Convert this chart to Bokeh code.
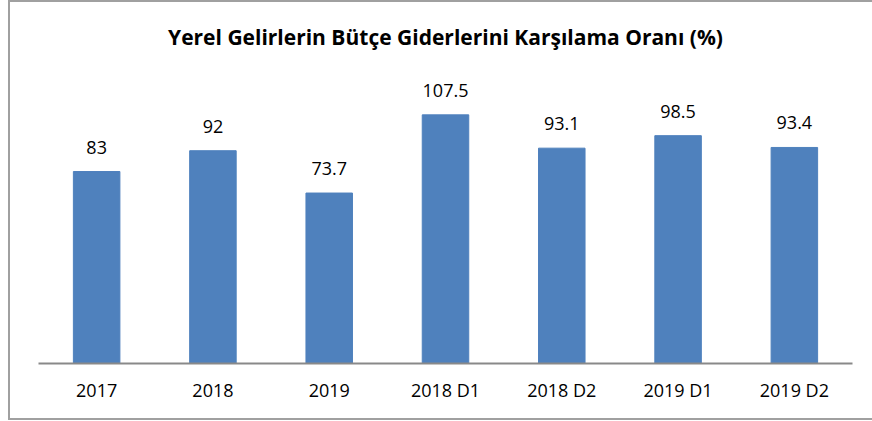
from bokeh.plotting import figure
from bokeh.models import ColumnDataSource, LabelSet, Range1d, FactorRange
from bokeh.core.properties import value
from bokeh.embed import file_html
from bokeh.resources import INLINE

categories = ["2017", "2018", "2019", "2018 D1", "2018 D2", "2019 D1", "2019 D2"]
values = [83, 92, 73.7, 107.5, 93.1, 98.5, 93.4]
value_labels = ["83", "92", "73.7", "107.5", "93.1", "98.5", "93.4"]

src = ColumnDataSource(dict(cat=categories, val=values, lab=value_labels))

W, H = 862, 416
p = figure(
    x_range=FactorRange(*categories, range_padding=0.0),
    y_range=Range1d(0, 131),
    width=W, height=H,
    output_backend="svg", toolbar_location=None,
    title="Yerel Gelirlerin Bütçe Giderlerini Karşılama Oranı (%)",
)
p.x_range.factor_padding = 0.0
p.margin = (2, 0, 2, 10)
p.min_border_left = 28
p.min_border_right = 20
p.min_border_bottom = 55
p.min_border_top = 58

p.title.text_font = "Open Sans"
p.title.text_font_size = "21px"
p.title.text_font_style = "bold"
p.title.text_color = "#000000"
p.title.align = "center"
p.title.standoff = 20

p.vbar(x="cat", top="val", width=0.4, source=src, fill_color="#4F81BD", line_color="#4F81BD")

labels = LabelSet(x="cat", y="val", text="lab", source=src, text_align="center",
                  text_baseline="alphabetic", y_offset=18,
                  text_font=value("Open Sans"), text_font_size=value("18px"), text_color="#000000")
p.add_layout(labels)

p.yaxis.visible = False
p.grid.visible = False
p.outline_line_color = None
p.xaxis.axis_line_color = "#898989"
p.xaxis.axis_line_width = 2
p.xaxis.major_tick_line_color = None
p.xaxis.minor_tick_line_color = None
p.xaxis.major_label_standoff = 8
p.xaxis.major_label_text_font = "Open Sans"
p.xaxis.major_label_text_font_size = "18px"
p.xaxis.major_label_text_color = "#000000"
p.styles = {"box-shadow": "-2px 0 0 0 #a0a0a0, 0 -2px 0 0 #a0a0a0, 0 2px 0 0 #a0a0a0, -2px -2px 0 0 #a0a0a0, -2px 2px 0 0 #a0a0a0"}

open("out.html", "w").write(file_html(p, INLINE))
